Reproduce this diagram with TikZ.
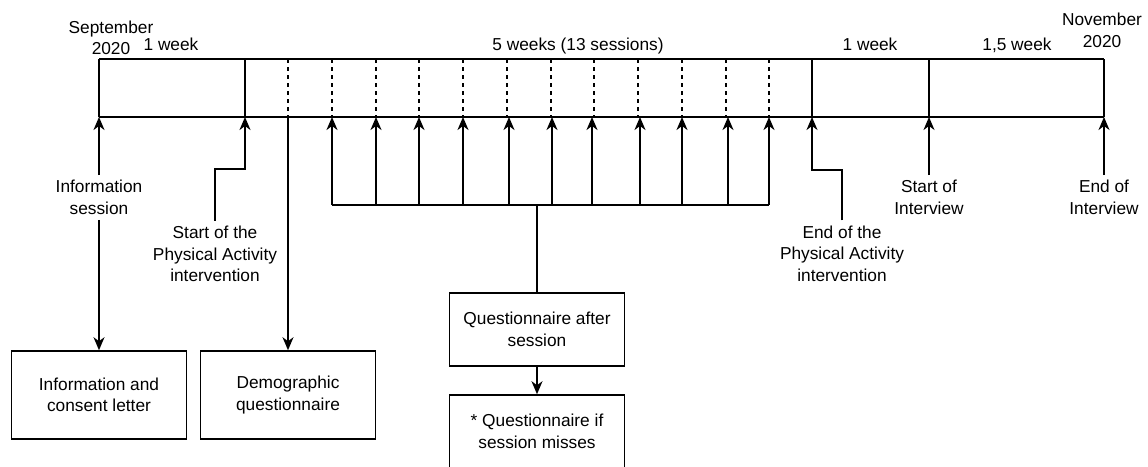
\documentclass[tikz,border=0pt]{standalone}
\usepackage{fontspec}
\setmainfont{Liberation Sans}
\usetikzlibrary{arrows.meta,calc}
\begin{document}
\begin{tikzpicture}[x=1pt,y=-1pt,
  every node/.style={font=\fontsize{17.3}{21.5}\selectfont, inner sep=0pt},
  ln/.style={line width=1.6pt},
  arr/.style={ln,-{Stealth[length=13pt,width=11pt,inset=4pt]}},
  dsh/.style={line width=1.3pt,dash pattern=on 4pt off 4pt},
  box/.style={draw,line width=1.6pt,minimum width=175pt,align=center},
  lbl/.style={align=center,inner sep=5pt},
  toplbl/.style={anchor=base}]
\useasboundingbox (0,0) rectangle (1148,466);

% timeline frame
\foreach \n/\x in {a/99,b/245,c/812,d/929,e/1104}{
  \coordinate (top\n) at (\x,59);
  \coordinate (bot\n) at (\x,117);
}
\draw[ln] (topa) -- (tope);
\draw[ln] (bota) -- (bote);
\foreach \n in {a,b,c,d,e}{ \draw[ln] (top\n) -- (bot\n); }

% dashed session ticks
\foreach \x in {288,332,376,419,463,507,551,594,638,682,726,769}{
  \draw[dsh] (\x,59) -- (\x,117);
}

% top labels
\node[align=center] (sep) at (111,37.8) {September\\2020};
\node[align=center] (nov) at (1102,30.3) {November\\2020};
\node[toplbl] (w1) at (171,50) {1 week};
\node[toplbl] (w5) at (578,50) {5 weeks (13 sessions)};
\node[toplbl] (w1b) at (870,50) {1 week};
\node[toplbl] (w15) at (1017,50) {1,5 week};

% boxes
\node[box,minimum height=88pt] (info) at (99,395) {Information and\\consent letter};
\node[box,minimum height=88pt] (demo) at (288,395) {Demographic\\questionnaire};
\node[box,minimum height=73pt] (q1) at (537,329.5) {Questionnaire after\\session};
\node[box,minimum height=73pt] (q2) at (537,431.5) {* Questionnaire if\\session misses};

% event labels
\node[lbl] (infs) at (99,197.5) {Information\\session};
\node[lbl] (spa) at (215,254) {Start of the\\Physical Activity\\intervention};
\node[lbl] (epa) at (842,253.5) {End of the\\Physical Activity\\intervention};
\node[lbl] (sint) at (929,197.5) {Start of\\Interview};
\node[lbl] (eint) at (1104,197.5) {End of\\Interview};

% connectors
\draw[arr] (infs.north) -- (bota);
\draw[arr] (infs.south) -- (info.north);
\draw[arr] (spa.north) |- ($(botb)+(0,52)$) -- (botb);
\draw[arr] (epa.north) |- ($(botc)+(0,53)$) -- (botc);
\draw[arr] (sint.north) -- (botd);
\draw[arr] (eint.north) -- (bote);

\coordinate (dq) at (288,117);
\draw[arr] (dq) -- (demo.north);

% session bracket
\coordinate (brl) at (332,205);
\coordinate (brr) at (769,205);
\coordinate (brm) at (537,205);
\draw[ln] (brl) -- (brr);
\foreach \x in {332,376,419,463,509,552,592,640,682,728,769}{
  \draw[arr] (\x,205) -- (\x,117);
}
\draw[ln] (brm) -- (q1.north);
\draw[arr] (q1.south) -- (q2.north);
\end{tikzpicture}
\end{document}
